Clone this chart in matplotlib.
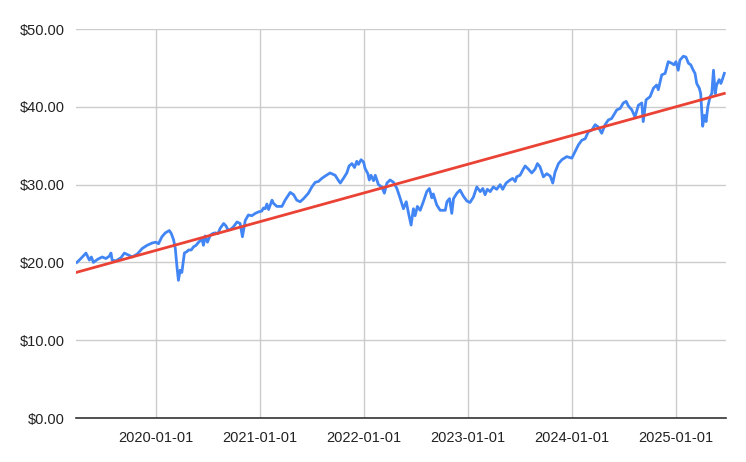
import numpy as np
import pandas as pd
import matplotlib
matplotlib.use("Agg")
import matplotlib.pyplot as plt
import matplotlib.dates as mdates
from matplotlib.ticker import FuncFormatter

# price samples
dates = [
    "2019-03-29", "2019-04-12", "2019-04-30", "2019-05-12", "2019-05-19", "2019-05-26",
    "2019-06-10", "2019-06-26", "2019-07-09", "2019-07-21", "2019-07-27", "2019-07-31",
    "2019-08-13", "2019-08-31", "2019-09-12", "2019-09-23", "2019-10-10", "2019-10-28",
    "2019-11-14", "2019-12-01", "2019-12-19", "2020-01-01", "2020-01-10", "2020-01-22",
    "2020-02-03", "2020-02-17", "2020-02-24", "2020-03-03", "2020-03-09", "2020-03-15",
    "2020-03-20", "2020-03-26", "2020-04-01", "2020-04-10", "2020-04-19", "2020-04-25",
    "2020-05-04", "2020-05-12", "2020-05-21", "2020-05-30", "2020-06-11", "2020-06-16",
    "2020-06-22", "2020-06-30", "2020-07-10", "2020-07-18", "2020-07-27", "2020-08-06",
    "2020-08-14", "2020-08-26", "2020-09-03", "2020-09-10", "2020-09-18", "2020-09-30",
    "2020-10-12", "2020-10-23", "2020-10-31", "2020-11-10", "2020-11-21", "2020-12-03",
    "2020-12-15", "2020-12-27", "2021-01-07", "2021-01-13", "2021-01-19", "2021-01-25",
    "2021-01-31", "2021-02-12", "2021-02-17", "2021-03-01", "2021-03-19", "2021-03-30",
    "2021-04-17", "2021-04-29", "2021-05-10", "2021-05-22", "2021-06-03", "2021-06-20",
    "2021-07-02", "2021-07-14", "2021-07-25", "2021-08-06", "2021-08-18", "2021-09-04",
    "2021-09-22", "2021-10-04", "2021-10-10", "2021-10-21", "2021-11-02", "2021-11-10",
    "2021-11-20", "2021-11-29", "2021-12-07", "2021-12-13", "2021-12-22", "2021-12-31",
    "2022-01-05", "2022-01-15", "2022-01-20", "2022-01-26", "2022-02-04", "2022-02-10",
    "2022-02-21", "2022-03-05", "2022-03-14", "2022-03-23", "2022-04-03", "2022-04-15",
    "2022-04-27", "2022-05-08", "2022-05-20", "2022-05-30", "2022-06-07", "2022-06-16",
    "2022-06-24", "2022-06-30", "2022-07-08", "2022-07-18", "2022-07-29", "2022-08-10",
    "2022-08-19", "2022-08-28", "2022-09-02", "2022-09-14", "2022-09-26", "2022-10-14",
    "2022-10-20", "2022-10-29", "2022-11-06", "2022-11-12", "2022-11-24", "2022-12-05",
    "2022-12-17", "2022-12-29", "2023-01-09", "2023-01-21", "2023-02-02", "2023-02-14",
    "2023-02-23", "2023-03-03", "2023-03-11", "2023-03-21", "2023-04-01", "2023-04-13",
    "2023-04-25", "2023-05-04", "2023-05-16", "2023-05-30", "2023-06-08", "2023-06-17",
    "2023-06-22", "2023-07-04", "2023-07-14", "2023-07-22", "2023-08-02", "2023-08-14",
    "2023-08-26", "2023-09-03", "2023-09-12", "2023-09-24", "2023-10-06", "2023-10-18",
    "2023-10-27", "2023-11-04", "2023-11-16", "2023-11-28", "2023-12-15", "2024-01-02",
    "2024-01-13", "2024-01-25", "2024-02-06", "2024-02-18", "2024-02-29", "2024-03-12",
    "2024-03-24", "2024-04-04", "2024-04-16", "2024-04-28", "2024-05-09", "2024-05-21",
    "2024-06-08", "2024-06-20", "2024-07-01", "2024-07-11", "2024-07-19", "2024-07-31",
    "2024-08-11", "2024-08-23", "2024-09-04", "2024-09-09", "2024-09-19", "2024-10-03",
    "2024-10-15", "2024-10-26", "2024-11-01", "2024-11-13", "2024-11-25", "2024-12-06",
    "2024-12-18", "2024-12-26", "2025-01-02", "2025-01-10", "2025-01-16", "2025-01-28",
    "2025-02-06", "2025-02-15", "2025-02-23", "2025-03-04", "2025-03-10", "2025-03-16",
    "2025-03-25", "2025-03-30", "2025-04-03", "2025-04-06", "2025-04-12", "2025-04-18",
    "2025-04-24", "2025-05-02", "2025-05-08", "2025-05-14", "2025-05-20", "2025-05-25",
    "2025-06-03", "2025-06-09", "2025-06-15", "2025-06-21",
]
prices = [
    20.0, 20.5, 21.2, 20.3, 20.7, 20.0,
    20.4, 20.7, 20.5, 20.8, 21.2, 20.3,
    20.2, 20.6, 21.2, 21.0, 20.7, 21.1,
    21.8, 22.2, 22.5, 22.6, 22.4, 23.3,
    23.8, 24.1, 23.7, 22.9, 21.8, 19.4,
    17.7, 19.0, 18.7, 21.2, 21.4, 21.6,
    21.6, 22.0, 22.2, 22.6, 23.0, 22.2,
    23.4, 22.6, 23.5, 23.7, 23.8, 23.7,
    24.4, 25.0, 24.7, 24.2, 24.2, 24.6,
    25.2, 25.0, 23.3, 25.4, 26.1, 26.0,
    26.3, 26.5, 26.6, 27.0, 26.9, 27.5,
    26.8, 28.0, 27.6, 27.2, 27.2, 28.0,
    29.0, 28.7, 28.0, 27.8, 28.2, 28.9,
    29.7, 30.3, 30.4, 30.8, 31.1, 31.5,
    31.2, 30.5, 30.2, 30.8, 31.5, 32.4,
    32.7, 32.2, 33.0, 32.6, 33.2, 32.9,
    32.1, 31.4, 30.6, 31.2, 30.5, 31.2,
    30.0, 29.7, 28.9, 30.2, 30.6, 30.3,
    29.5, 28.3, 26.9, 27.8, 26.3, 24.8,
    26.9, 26.0, 27.2, 26.7, 27.8, 29.1,
    29.5, 28.3, 28.8, 27.4, 26.7, 26.7,
    27.8, 28.2, 26.3, 28.2, 28.9, 29.3,
    28.5, 27.9, 27.7, 28.4, 29.7, 29.1,
    29.5, 28.7, 29.4, 29.1, 29.7, 29.4,
    30.0, 29.4, 30.2, 30.6, 30.8, 30.4,
    31.0, 31.2, 31.9, 32.4, 32.0, 31.5,
    32.0, 32.7, 32.3, 31.0, 31.4, 31.1,
    30.2, 31.6, 32.7, 33.2, 33.6, 33.4,
    34.2, 35.1, 35.7, 35.9, 36.8, 37.0,
    37.7, 37.4, 36.6, 37.7, 38.3, 38.5,
    39.6, 39.8, 40.5, 40.7, 40.1, 39.6,
    38.7, 40.2, 40.5, 38.1, 40.9, 41.3,
    42.4, 42.8, 42.2, 44.1, 44.3, 45.8,
    45.6, 45.4, 45.8, 44.7, 46.0, 46.5,
    46.4, 45.6, 45.4, 44.7, 44.3, 43.0,
    42.4, 41.7, 39.4, 37.5, 38.9, 38.1,
    40.0, 41.3, 41.7, 44.7, 41.7, 42.8,
    43.5, 43.0, 43.6, 44.3,
]
year_ticks = ["2020-01-01", "2021-01-01", "2022-01-01", "2023-01-01", "2024-01-01", "2025-01-01"]

x = pd.to_datetime(dates)
y = np.array(prices)

# linear trendline like the spreadsheet one
xn = mdates.date2num(x)
slope, intercept = np.polyfit(xn, y, 1)
trend = slope * xn + intercept

plt.rcParams["font.family"] = ["Liberation Sans", "DejaVu Sans"]

fig = plt.figure(figsize=(7.46, 4.62), dpi=100)
ax = fig.add_axes([0.1019, 0.0952, 0.8713, 0.842])

ax.plot(x, y, color="#4285F4", linewidth=2.0, zorder=3)
ax.plot([x[0], x[-1]], [trend[0], trend[-1]], color="#EA4335", linewidth=2.0, zorder=4)

ax.set_ylim(0, 50)
ax.set_xlim(pd.Timestamp("2019-03-26"), pd.Timestamp("2025-06-27"))
ax.set_yticks([0, 10, 20, 30, 40, 50])
ax.yaxis.set_major_formatter(FuncFormatter(lambda v, p: f"${v:.2f}"))
ax.set_xticks(pd.to_datetime(year_ticks))
ax.set_xticklabels(year_ticks)

ax.grid(True, color="#cccccc", linewidth=1.0)
ax.set_axisbelow(True)
for s in ["top", "right", "left"]:
    ax.spines[s].set_visible(False)
ax.spines["bottom"].set_color("#333333")
ax.spines["bottom"].set_linewidth(1.2)
ax.spines["bottom"].set_zorder(5)
ax.tick_params(axis="both", length=0, labelsize=10.5, colors="#222222")
ax.tick_params(axis="y", pad=8)
ax.tick_params(axis="x", pad=9)

fig.savefig("out.png", dpi=100)
